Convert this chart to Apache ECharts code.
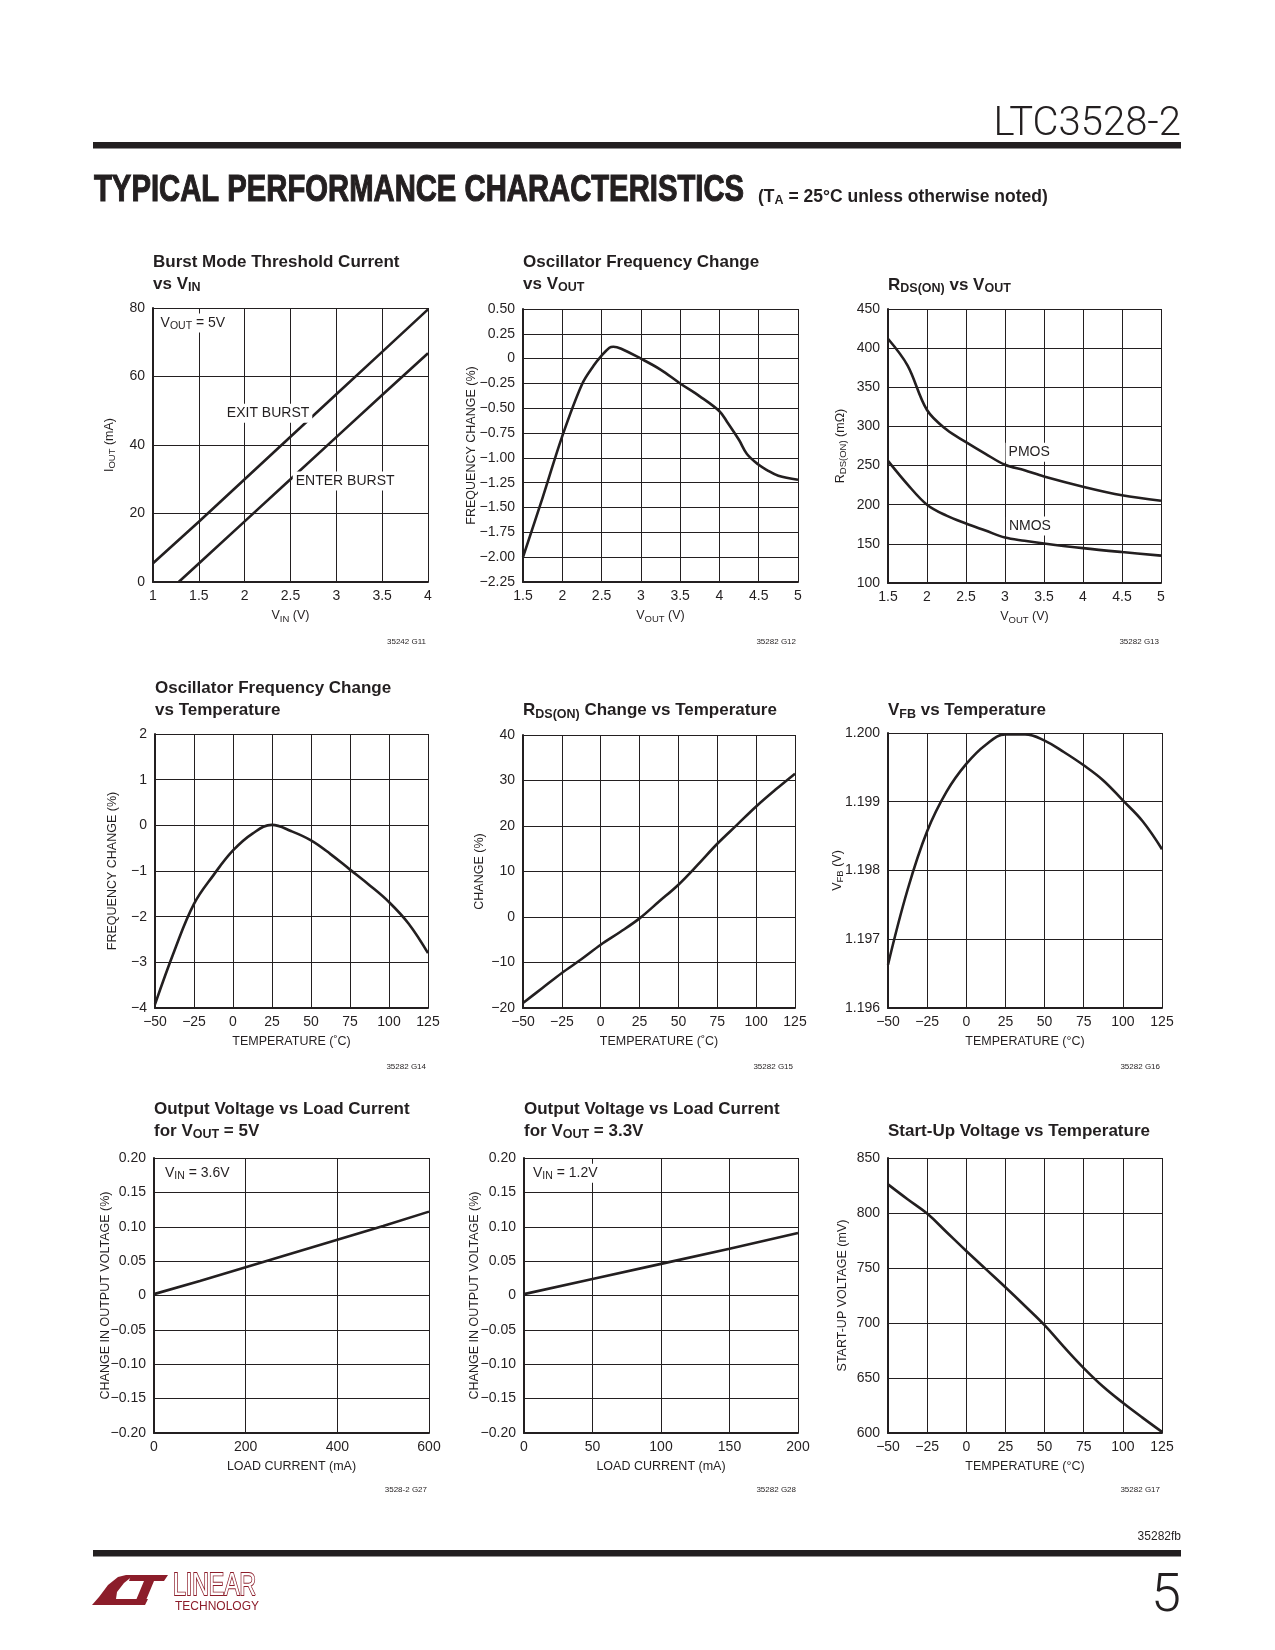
<!DOCTYPE html>
<html><head><meta charset="utf-8">
<script src="https://cdn.jsdelivr.net/npm/echarts@6/dist/echarts.min.js"></script>
<style>html,body{margin:0;padding:0;background:#fff}#c{width:1275px;height:1650px}</style>
</head><body><div id="c"></div>
<script>
// ---------------- DATA ----------------
// G11 Burst Mode threshold current vs VIN
const burstVin = [1, 1.5, 2, 2.5, 3, 3.5, 4];
const exitBurst = [5.5, 17.6, 30.0, 42.4, 54.8, 67.2, 79.6];
const enterVin = [1.28, 1.5, 2, 2.5, 3, 3.5, 4];
const enterBurst = [0, 5.4, 17.7, 30.0, 42.3, 54.6, 66.8];
// G12 Oscillator frequency change vs VOUT
const oscVout = [1.5, 1.75, 2, 2.25, 2.4, 2.5, 2.6, 2.65, 2.75, 3, 3.25, 3.5, 3.75, 4, 4.1, 4.25, 4.35, 4.5, 4.6, 4.75, 5];
const oscVoutChange = [-2.0, -1.40, -0.78, -0.26, -0.07, 0.03, 0.11, 0.12, 0.10, 0.0, -0.11, -0.25, -0.38, -0.53, -0.64, -0.82, -0.96, -1.07, -1.12, -1.18, -1.22];
// G13 RDS(ON) vs VOUT
const rdsVout = [1.5, 1.75, 2, 2.25, 2.5, 2.75, 3, 3.25, 3.5, 4, 4.5, 5];
const pmos = [412, 378, 321, 296, 280, 265, 251, 244, 236, 223, 212, 205];
const nmos = [256, 226, 200, 186, 176, 167, 158, 154, 150.5, 144.5, 139.5, 135];
// Temperature based charts
const temps = [-50, -37.5, -25, -12.5, 0, 12.5, 25, 37.5, 50, 62.5, 75, 87.5, 100, 112.5, 125];
const oscTempChange = [-3.92, -2.74, -1.72, -1.09, -0.55, -0.18, 0.01, -0.13, -0.33, -0.63, -0.97, -1.31, -1.68, -2.15, -2.80];
const rdsTempChange = [-18.9, -15.6, -12.3, -9.3, -6.1, -3.3, -0.3, 3.4, 7.1, 11.5, 16.1, 20.2, 24.3, 28.0, 31.5];
const vfbTemp = [1.19663, 1.19772, 1.19857, 1.19915, 1.19955, 1.19983, 1.19998, 1.19998, 1.19989, 1.19972, 1.19953, 1.19931, 1.19902, 1.19872, 1.19831];
const startupTemp = [826, 812.5, 799.5, 782.5, 765.5, 749, 732.5, 715.5, 698, 678, 659, 642, 627.5, 614, 601];
// G27 / G28 load regulation
const load5 = [0, 100, 200, 300, 400, 500, 600];
const dv5 = [0.002, 0.021, 0.041, 0.061, 0.081, 0.101, 0.122];
const load33 = [0, 50, 100, 150, 200];
const dv33 = [0.002, 0.024, 0.046, 0.068, 0.091];

// ---------------- STYLE ----------------
const FONT = "'Liberation Sans Narrow','Liberation Sans',Arial,sans-serif";
const INK = '#231f20';
const pairs = (xs, ys) => xs.map((x, i) => [x, ys[i]]);
const minus = v => v < 0 ? '\u2212' + String(-v) : String(v);
const dec = n => v => v === 0 ? '0' : (v < 0 ? '\u2212' : '') + Math.abs(v).toFixed(n);

const grids = [
  {left: 153, top: 308, width: 275, height: 274},
  {left: 523, top: 309, width: 275, height: 273},
  {left: 888, top: 309, width: 273, height: 274},
  {left: 155, top: 734, width: 273, height: 274},
  {left: 523, top: 735, width: 272, height: 273},
  {left: 888, top: 733, width: 274, height: 275},
  {left: 154, top: 1158, width: 275, height: 275},
  {left: 524, top: 1158, width: 274, height: 275},
  {left: 888, top: 1158, width: 274, height: 275}
];

const charts = [
  {title: 'Burst Mode Threshold Current\nvs V{s|IN}', x: [1, 4, 0.5], y: [0, 80, 20], xName: 'V{s|IN} (V)', yName: 'I{s|OUT} (mA)', yGap: 37, xFmt: null, yFmt: null, code: '35242 G11'},
  {title: 'Oscillator Frequency Change\nvs V{s|OUT}', x: [1.5, 5, 0.5], y: [-2.25, 0.5, 0.25], xName: 'V{s|OUT} (V)', yName: 'FREQUENCY CHANGE (%)', yGap: 45, xFmt: null, yFmt: dec(2), code: '35282 G12'},
  {title: 'R{s|DS(ON)} vs V{s|OUT}', x: [1.5, 5, 0.5], y: [100, 450, 50], xName: 'V{s|OUT} (V)', yName: 'R{s|DS(ON)} (m\u03A9)', yGap: 41, xFmt: null, yFmt: null, code: '35282 G13'},
  {title: 'Oscillator Frequency Change\nvs Temperature', x: [-50, 125, 25], y: [-4, 2, 1], xName: 'TEMPERATURE (\u02DAC)', yName: 'FREQUENCY CHANGE (%)', yGap: 36, xFmt: minus, yFmt: minus, code: '35282 G14'},
  {title: 'R{s|DS(ON)} Change vs Temperature', x: [-50, 125, 25], y: [-20, 40, 10], xName: 'TEMPERATURE (\u02DAC)', yName: 'CHANGE (%)', yGap: 36.5, xFmt: minus, yFmt: minus, code: '35282 G15'},
  {title: 'V{s|FB} vs Temperature', x: [-50, 125, 25], y: [1.196, 1.2, 0.001], xName: 'TEMPERATURE (\u00B0C)', yName: 'V{s|FB} (V)', yGap: 44, xFmt: minus, yFmt: v => v.toFixed(3), code: '35282 G16'},
  {title: 'Output Voltage vs Load Current\nfor V{s|OUT} = 5V', x: [0, 600, 200], y: [-0.2, 0.2, 0.05], xName: 'LOAD CURRENT (mA)', yName: 'CHANGE IN OUTPUT VOLTAGE (%)', yGap: 42, xFmt: null, yFmt: dec(2), code: '3528-2 G27'},
  {title: 'Output Voltage vs Load Current\nfor V{s|OUT} = 3.3V', x: [0, 200, 50], y: [-0.2, 0.2, 0.05], xName: 'LOAD CURRENT (mA)', yName: 'CHANGE IN OUTPUT VOLTAGE (%)', yGap: 43, xFmt: null, yFmt: dec(2), code: '35282 G28'},
  {title: 'Start-Up Voltage vs Temperature', x: [-50, 125, 25], y: [600, 850, 50], xName: 'TEMPERATURE (\u00B0C)', yName: 'START-UP VOLTAGE (mV)', yGap: 39, xFmt: minus, yFmt: null, code: '35282 G17'}
];

const seriesDefs = [
  {g: 0, data: pairs(burstVin, exitBurst), smooth: false},
  {g: 0, data: pairs(enterVin, enterBurst), smooth: false},
  {g: 1, data: pairs(oscVout, oscVoutChange), smooth: 0.35},
  {g: 2, data: pairs(rdsVout, pmos), smooth: 0.35},
  {g: 2, data: pairs(rdsVout, nmos), smooth: 0.35},
  {g: 3, data: pairs(temps, oscTempChange), smooth: 0.4},
  {g: 4, data: pairs(temps, rdsTempChange), smooth: 0.35},
  {g: 5, data: pairs(temps, vfbTemp), smooth: 0.4},
  {g: 6, data: pairs(load5, dv5), smooth: false},
  {g: 7, data: pairs(load33, dv33), smooth: false},
  {g: 8, data: pairs(temps, startupTemp), smooth: 0.4}
];

const annotations = [
  {g: 0, at: [1.05, 75.6], text: 'V{s|OUT} = 5V', align: 'left'},
  {g: 0, at: [2.255, 49.3], text: 'EXIT BURST', align: 'center'},
  {g: 0, at: [3.096, 29.5], text: 'ENTER BURST', align: 'center'},
  {g: 2, at: [3.31, 267], text: 'PMOS', align: 'center'},
  {g: 2, at: [3.32, 172.8], text: 'NMOS', align: 'center'},
  {g: 6, at: [17.5, 0.178], text: 'V{s|IN} = 3.6V', align: 'left'},
  {g: 7, at: [4.4, 0.178], text: 'V{s|IN} = 1.2V', align: 'left'}
];

const subRich = (fs, lh, pad) => ({s: {fontFamily: FONT, fontSize: fs, lineHeight: lh, padding: [pad, 0, 0, 0], color: INK}});

const rowLine1 = [262, 688.5, 1109];
const rowSingle = [285, 710.5, 1131.5];

const option = {
  animation: false,
  backgroundColor: '#fff',
  grid: grids.map(g => Object.assign({show: false, containLabel: false}, g)),
  title: charts.map((c, i) => {
    const row = Math.floor(i / 3);
    const two = c.title.indexOf('\n') >= 0;
    return {
      text: c.title,
      left: grids[i].left,
      top: (two ? rowLine1[row] : rowSingle[row]) - 11,
      padding: 0,
      textStyle: {
        fontFamily: FONT, fontWeight: 'bold', fontSize: 17, lineHeight: 22, color: INK,
        rich: {s: {fontFamily: FONT, fontWeight: 'bold', fontSize: 12.5, lineHeight: 14, padding: [8, 0, 0, 0], color: INK}}
      }
    };
  }),
  xAxis: charts.map((c, i) => ({
    type: 'value', gridIndex: i, min: c.x[0], max: c.x[1], interval: c.x[2],
    name: c.xName, nameLocation: 'middle', nameGap: 26, nameMoveOverlap: false,
    nameTextStyle: {fontFamily: FONT, fontSize: 12.5, lineHeight: 16, color: INK, rich: subRich(9.5, 10, 6)},
    axisLine: {show: true, onZero: false, lineStyle: {color: INK, width: 2}},
    axisTick: {show: false},
    axisLabel: {fontFamily: FONT, fontSize: 14, color: INK, margin: 7, formatter: c.xFmt || undefined},
    splitLine: {show: true, showMinLine: true, showMaxLine: true, lineStyle: {color: INK, width: 1}}
  })),
  yAxis: charts.map((c, i) => ({
    type: 'value', gridIndex: i, min: c.y[0], max: c.y[1], interval: c.y[2],
    name: c.yName, nameLocation: 'middle', nameGap: c.yGap - 1.5, nameRotate: 90, nameMoveOverlap: false,
    nameTextStyle: {fontFamily: FONT, fontSize: 12.5, lineHeight: 16, color: INK, rich: subRich(9.5, 10, 6)},
    axisLine: {show: true, onZero: false, lineStyle: {color: INK, width: 2}},
    axisTick: {show: false},
    axisLabel: {fontFamily: FONT, fontSize: 14, color: INK, margin: 8, formatter: c.yFmt || undefined},
    splitLine: {show: true, showMinLine: true, showMaxLine: true, lineStyle: {color: INK, width: 1}}
  })),
  series: seriesDefs.map(s => ({
    type: 'line', xAxisIndex: s.g, yAxisIndex: s.g, data: s.data, smooth: s.smooth,
    showSymbol: false, symbol: 'none', silent: true,
    lineStyle: {color: INK, width: 2.6}, z: 5
  }))
};

const chart = echarts.init(document.getElementById('c'), null, {renderer: 'canvas', width: 1275, height: 1650});
chart.setOption(option);

// ---------------- GRAPHICS (header, footer, annotations) ----------------
const txt = (x, y, text, o) => ({
  type: 'text', x: x, y: y, z: 100, silent: true,
  originX: 0, originY: 0,
  scaleX: (o && o.scaleX) || 1, scaleY: (o && o.scaleY) || 1,
  style: Object.assign({
    text: text, fill: INK, fontFamily: FONT, fontSize: 14,
    align: 'left', verticalAlign: 'middle', textAlign: 'left', textVerticalAlign: 'middle'
  }, (o && o.style) || {})
});

const RIGHT = 1181;
const graphics = [];
// header
graphics.push(txt(RIGHT, 125, 'LTC3528-2', {style: {fontFamily: "Roboto, 'Liberation Sans', sans-serif", fontWeight: 300, fontSize: 40, align: 'right', textAlign: 'right'}}));
graphics.push({type: 'rect', shape: {x: 93, y: 142, width: RIGHT - 93, height: 6.5}, style: {fill: INK}, silent: true});
graphics.push(txt(94, 191, 'TYPICAL PERFORMANCE CHARACTERISTICS', {scaleX: 0.975, scaleY: 1.2, style: {fontWeight: 'bold', fontSize: 30, stroke: INK, lineWidth: 0.9}}));
graphics.push(txt(758, 197, '(T{s|A} = 25\u00B0C unless otherwise noted)', {style: {fontWeight: 'bold', fontSize: 17.5, lineHeight: 21,
  rich: {s: {fontFamily: FONT, fontWeight: 'bold', fontSize: 12.5, lineHeight: 13, padding: [8, 0, 0, 0], fill: INK}}}}));
// figure codes
charts.forEach((c, i) => {
  const row = Math.floor(i / 3);
  const g = grids[i];
  graphics.push(txt(g.left + g.width - 2, [642, 1067, 1490][row], c.code, {style: {fontSize: 8, align: 'right', textAlign: 'right'}}));
});
// footer
graphics.push(txt(RIGHT, 1537, '35282fb', {style: {fontSize: 12, align: 'right', textAlign: 'right'}}));
graphics.push({type: 'rect', shape: {x: 93, y: 1550, width: RIGHT - 93, height: 6.5}, style: {fill: INK}, silent: true});
graphics.push(txt(RIGHT, 1597, '5', {style: {fontFamily: "Roboto, 'Liberation Sans', sans-serif", fontWeight: 300, fontSize: 54, align: 'right', textAlign: 'right'}}));
// logo (approximation)
const LOGO = '#8c1d2a';
graphics.push({type: 'polygon', silent: true, shape: {points: [[92, 1605], [99, 1597], [108, 1585], [118, 1577], [126, 1575], [134, 1575], [124, 1583], [117, 1592], [116, 1599], [148, 1599], [145, 1605]]}, style: {fill: LOGO}});
graphics.push({type: 'polygon', silent: true, shape: {points: [[131, 1575], [168, 1575], [164, 1581], [154, 1581], [144, 1605], [134, 1605], [144, 1581], [129, 1581]]}, style: {fill: LOGO}});
graphics.push(txt(173, 1586, 'LINEAR', {scaleY: 1.35, style: {fontFamily: "'Liberation Sans', Arial, sans-serif", fontSize: 23, fill: '#fff', stroke: LOGO, lineWidth: 1.4}}));
graphics.push(txt(175, 1607, 'TECHNOLOGY', {style: {fontFamily: "'Liberation Sans', Arial, sans-serif", fontSize: 12, fill: LOGO}}));
// annotations inside plots, placed from data coordinates
annotations.forEach(a => {
  const p = chart.convertToPixel({gridIndex: a.g}, a.at);
  graphics.push(txt(p[0], p[1], a.text, {style: {
    fontSize: 14, lineHeight: 17, align: a.align, textAlign: a.align,
    backgroundColor: '#fff', padding: [1, 3, 1, 3],
    rich: {s: {fontFamily: FONT, fontSize: 10.5, lineHeight: 11, padding: [6, 0, 0, 0], fill: INK}}
  }}));
});

chart.setOption({graphic: graphics});
</script>
</body></html>
